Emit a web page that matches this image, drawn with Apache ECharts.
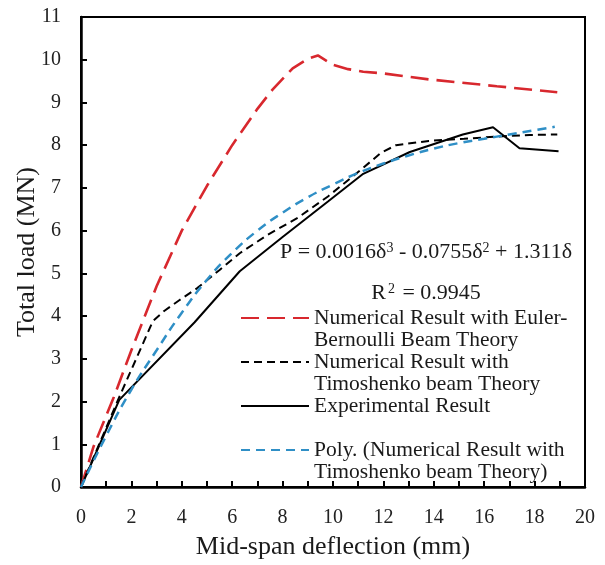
<!DOCTYPE html>
<html>
<head>
<meta charset="utf-8">
<script src="https://cdn.jsdelivr.net/npm/echarts@6/dist/echarts.min.js"></script>
<style>html,body{margin:0;padding:0;background:#fff}#c{width:605px;height:565px}</style>
</head>
<body>
<div id="c"></div>
<script>
// ---- data ----
const eulerData = [[0,0],[0.5,0.95],[1.3,2.1],[2.0,3.2],[3.0,4.7],[4.0,6.0],[5.0,7.05],[6.0,8.0],[7.0,8.85],[7.6,9.3],[8.4,9.8],[9.0,10.02],[9.4,10.1],[10.0,9.88],[10.6,9.78],[11.2,9.72],[12.0,9.68],[13.8,9.54],[16.5,9.38],[18.9,9.24]];
const timoData = [[0,0],[1.5,2.08],[2.85,3.88],[3.3,4.12],[3.9,4.37],[4.6,4.65],[5.5,5.08],[6.3,5.47],[7.4,5.9],[8.6,6.3],[9.8,6.8],[11.2,7.47],[11.9,7.82],[12.5,8.0],[13.8,8.1],[15.2,8.15],[16.5,8.2],[17.8,8.24],[18.9,8.25]];
const expData = [[0,0],[1.52,2.04],[4.5,3.85],[6.3,5.05],[8.0,5.85],[9.8,6.68],[11.2,7.33],[13.05,7.84],[15.15,8.25],[16.35,8.42],[17.4,7.93],[18.95,7.86]];
const polyData = [[0,0],[1,1.2],[2,2.28],[3,3.2],[4,4.08],[5,4.85],[6,5.48],[7,6.0],[8,6.42],[9,6.78],[10,7.08],[11,7.35],[12,7.57],[13,7.76],[14,7.92],[15,8.05],[16,8.15],[17,8.25],[18,8.35],[18.8,8.43]];
const seriesNames = ['Euler', 'Timoshenko', 'Experimental', 'Poly'];
const legendTexts = {
  Euler: 'Numerical Result with Euler-\nBernoulli Beam Theory',
  Timoshenko: 'Numerical Result with\nTimoshenko beam Theory',
  Experimental: 'Experimental Result\n ',
  Poly: 'Poly. (Numerical Result with\nTimoshenko beam Theory)'
};
const equationText = 'P = 0.0016δ{sup|3} - 0.0755δ{sup|2} + 1.311δ';
const r2Text = 'R{sup|2} = 0.9945';
const xMin = 0, xMax = 20, xStep = 1;
const yMin = 0, yMax = 11, yStep = 1;

const FONT = 'Liberation Serif';
const chart = echarts.init(document.getElementById('c'), null, {renderer: 'canvas'});
chart.setOption({
  animation: false,
  backgroundColor: '#fff',
  grid: {left: 81, right: 20, top: 17, bottom: 70, show: true, borderColor: '#000', borderWidth: 2, backgroundColor: 'transparent'},
  xAxis: {
    type: 'value', min: xMin, max: xMax, interval: xStep,
    name: 'Mid-span deflection (mm)', nameLocation: 'middle', nameGap: 47,
    nameTextStyle: {fontFamily: FONT, fontSize: 26, color: '#1a1a1a'},
    axisLine: {show: true, lineStyle: {color: '#000', width: 2.5}},
    axisTick: {show: true, inside: true, length: 6, lineStyle: {color: '#000', width: 2}},
    axisLabel: {fontFamily: FONT, fontSize: 20, color: '#222', margin: 21,
      formatter: v => (v % 2 === 0 ? String(v) : '')},
    splitLine: {show: false}
  },
  yAxis: {
    type: 'value', min: yMin, max: yMax, interval: yStep,
    name: 'Total load (MN)', nameLocation: 'middle', nameGap: 41, nameMoveOverlap: false,
    nameTextStyle: {fontFamily: FONT, fontSize: 26, color: '#1a1a1a'},
    axisLine: {show: true, lineStyle: {color: '#000', width: 2.5}},
    axisTick: {show: true, inside: true, length: 6, lineStyle: {color: '#000', width: 2}},
    axisLabel: {fontFamily: FONT, fontSize: 20, color: '#222', margin: 20},
    splitLine: {show: false}
  },
  legend: {
    orient: 'vertical', left: 240, top: 285, padding: 0, itemGap: -22,
    itemWidth: 68, itemHeight: 14, selectedMode: false,
    data: seriesNames,
    itemStyle: {opacity: 0},
    formatter: name => '\n' + legendTexts[name],
    textStyle: {fontFamily: FONT, fontSize: 21.5, lineHeight: 22, color: '#1a1a1a'}
  },
  graphic: [
    {type: 'text', x: 426, y: 252, style: {text: equationText, align: 'center', verticalAlign: 'middle',
      fontFamily: FONT, fontSize: 22, fill: '#1a1a1a',
      rich: {sup: {fontFamily: FONT, fontSize: 14, verticalAlign: 'top', fill: '#1a1a1a'}}}},
    {type: 'text', x: 426, y: 293, style: {text: r2Text, align: 'center', verticalAlign: 'middle',
      fontFamily: FONT, fontSize: 22, fill: '#1a1a1a',
      rich: {sup: {fontFamily: FONT, fontSize: 14, verticalAlign: 'top', fill: '#1a1a1a', padding: [0, 2, 0, 2]}}}}
  ],
  series: [
    {name: 'Euler', type: 'line', data: eulerData, symbol: 'none', smooth: false,
      lineStyle: {color: '#d8282e', width: 2.6, type: [18, 8]}, itemStyle: {color: '#d8282e'}},
    {name: 'Timoshenko', type: 'line', data: timoData, symbol: 'none', smooth: false,
      lineStyle: {color: '#000', width: 2, type: [8, 5]}, itemStyle: {color: '#000'}},
    {name: 'Experimental', type: 'line', data: expData, symbol: 'none', smooth: false,
      lineStyle: {color: '#000', width: 2, type: 'solid'}, itemStyle: {color: '#000'}},
    {name: 'Poly', type: 'line', data: polyData, symbol: 'none', smooth: true,
      lineStyle: {color: '#2f8fc6', width: 2.5, type: [9, 6]}, itemStyle: {color: '#2f8fc6'}}
  ]
});
</script>
</body>
</html>
